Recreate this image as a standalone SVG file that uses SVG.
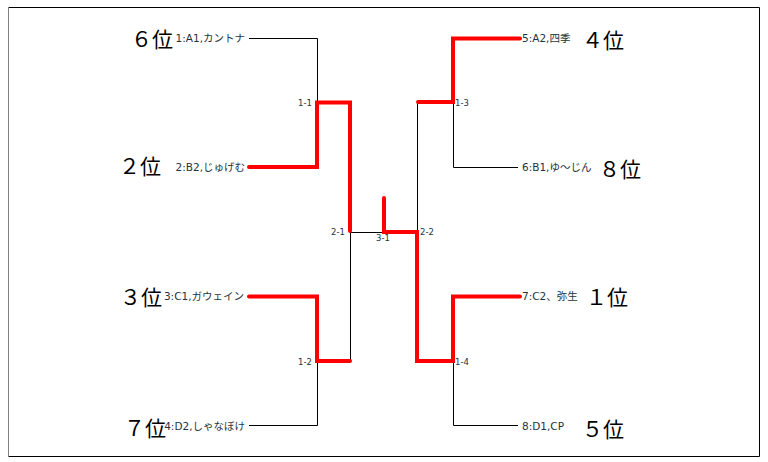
<svg xmlns="http://www.w3.org/2000/svg" width="768" height="462" viewBox="0 0 768 462">
<style>
.thin{fill:none;stroke:#000;stroke-width:1}
.win{fill:none;stroke:#ff0000;stroke-width:4;stroke-linecap:round;stroke-linejoin:miter}
.name{font-family:"DejaVu Sans","Noto Sans CJK JP",sans-serif;font-size:10.5px;fill:#1e3440}
.rank{font-family:"Noto Sans CJK JP",sans-serif;font-size:21px;fill:#000}
.mt{font-family:"DejaVu Sans",sans-serif;font-size:8.5px;fill:#1e3440}
</style>
<rect x="0" y="0" width="768" height="462" fill="#fff"/>
<g id="frame">
<path d="M8.5,7.5H759.5V456.5H8.5" fill="none" stroke="#000" stroke-width="1"/>
<path d="M8.5,7.5V456.5" fill="none" stroke="#808080" stroke-width="1"/>
</g>
<g id="connectors">
<path class="thin" d="M249,38.5H317.5V102"/>
<path class="thin" d="M249,425.5H317.5V361"/>
<path class="thin" d="M350.5,232V361"/>
<path class="thin" d="M350,232.5H417"/>
<path class="thin" d="M417.5,102V232"/>
<path class="thin" d="M453.5,102V167.5H518"/>
<path class="thin" d="M453.5,361V425.5H518"/>
<path class="win" d="M249,167H317V102.5H350V231"/>
<path class="win" d="M249,296.5H317V361H350"/>
<path class="win" d="M384,198V232H417V361H453V296.5H520"/>
<path class="win" d="M418,102H453V38.5H520"/>
</g>
<g id="p1"><text class="rank" x="131" y="47">６位</text><text class="name" x="245" y="42" text-anchor="end">1:A1,カントナ</text></g>
<g id="p2"><text class="rank" x="119" y="174">２位</text><text class="name" x="245" y="171" text-anchor="end">2:B2,じゅげむ</text></g>
<g id="p3"><text class="rank" x="120" y="305">３位</text><text class="name" x="244" y="300" text-anchor="end">3:C1,ガウェイン</text></g>
<g id="p4"><text class="rank" x="124" y="436">７位</text><text class="name" x="245" y="430" text-anchor="end">4:D2,しゃなぼけ</text></g>
<g id="p5"><text class="name" x="522" y="42">5:A2,四季</text><text class="rank" x="582" y="48">４位</text></g>
<g id="p6"><text class="name" x="522" y="171">6:B1,ゆ～じん</text><text class="rank" x="599" y="177">８位</text></g>
<g id="p7"><text class="name" x="522" y="300">7:C2、弥生</text><text class="rank" x="586" y="305">１位</text></g>
<g id="p8"><text class="name" x="522" y="430">8:D1,CP</text><text class="rank" x="582" y="437">５位</text></g>
<g id="m11"><text class="mt" x="312" y="106" text-anchor="end">1-1</text></g>
<g id="m12"><text class="mt" x="312" y="365" text-anchor="end">1-2</text></g>
<g id="m13"><text class="mt" x="455" y="106">1-3</text></g>
<g id="m14"><text class="mt" x="455" y="365">1-4</text></g>
<g id="m21"><text class="mt" x="345" y="235" text-anchor="end">2-1</text></g>
<g id="m22"><text class="mt" x="420" y="235">2-2</text></g>
<g id="m31"><text class="mt" x="383" y="241" text-anchor="middle">3-1</text></g>
</svg>
